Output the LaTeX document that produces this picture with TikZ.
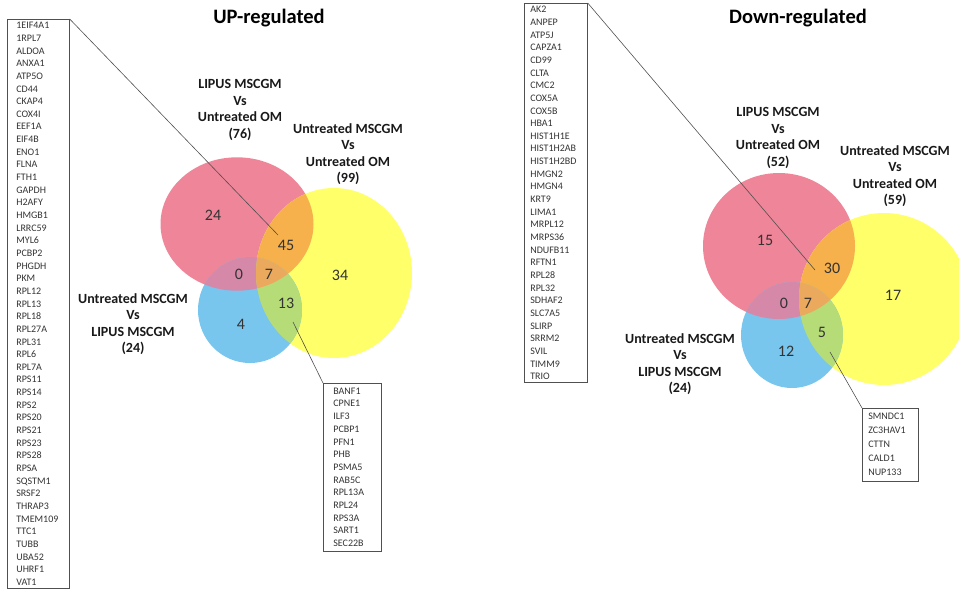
\documentclass[tikz,border=0pt]{standalone}
\usepackage{fontspec}
\setmainfont{Carlito}
\definecolor{vpink}{HTML}{EE8598}
\definecolor{vyellow}{HTML}{FFFF6A}
\definecolor{vblue}{HTML}{78C5EE}
\definecolor{vorange}{HTML}{F6B04C}
\definecolor{vgreen}{HTML}{B6DC78}
\definecolor{vmauve}{HTML}{D688A9}
\definecolor{vtriple}{HTML}{EBA95E}
\definecolor{lineg}{HTML}{505050}
\begin{document}
\begin{tikzpicture}[x=1pt,y=-1pt,
  genebox/.style={draw=lineg, line width=0.7pt, anchor=north west, align=left,
    font=\fontsize{10}{12.65}\selectfont, text=black!80, inner ysep=3pt},
  vlabel/.style={align=center, font=\fontsize{14}{16.5}\selectfont\bfseries, text=black!90},
  vnum/.style={font=\fontsize{16}{18}\selectfont, text=black!80},
  ttl/.style={font=\fontsize{20.5}{24}\selectfont\bfseries},
  conn/.style={draw=lineg, line width=0.6pt},
  redA/.style={insert path={(237,224) ellipse [x radius=76.5, y radius=66.7]}},
  yelA/.style={insert path={(334,273) ellipse [x radius=78, y radius=85]}},
  bluA/.style={insert path={(250,310) ellipse [x radius=52, y radius=53]}},
  redB/.style={insert path={(779,246) ellipse [x radius=76, y radius=73]}},
  yelB/.style={insert path={(884,299) ellipse [x radius=85, y radius=86]}},
  bluB/.style={insert path={(792,335) ellipse [x radius=51, y radius=53]}},
]
\useasboundingbox (0,0) rectangle (959,592);
\clip (0,0) rectangle (959,592);

% ---------- left Venn ----------
\fill[vpink, redA];
\fill[vyellow, yelA];
\fill[vblue, bluA];
\begin{scope}\clip[redA]; \fill[vorange, yelA]; \fill[vmauve, bluA]; \end{scope}
\begin{scope}\clip[yelA]; \fill[vgreen, bluA]; \end{scope}
\begin{scope}\clip[redA]; \clip[yelA]; \fill[vtriple, bluA]; \end{scope}

% ---------- right Venn ----------
\fill[vpink, redB];
\fill[vyellow, yelB];
\fill[vblue, bluB];
\begin{scope}\clip[redB]; \fill[vorange, yelB]; \fill[vmauve, bluB]; \end{scope}
\begin{scope}\clip[yelB]; \fill[vgreen, bluB]; \end{scope}
\begin{scope}\clip[redB]; \clip[yelB]; \fill[vtriple, bluB]; \end{scope}

% ---------- titles ----------
\node[ttl] (t1) at (269,18) {UP-regulated};
\node[ttl] (t2) at (798,18) {Down-regulated};

% ---------- left labels ----------
\node[vlabel] (la) at (240,110) {LIPUS MSCGM\\Vs\\Untreated OM\\(76)};
\node[vlabel] (lb) at (348,154) {Untreated MSCGM\\Vs\\Untreated OM\\(99)};
\node[vlabel] (lc) at (133,324) {Untreated MSCGM\\Vs\\LIPUS MSCGM\\(24)};

\node[vnum] (n24) at (213,215) {24};
\node[vnum] (n45) at (286,245) {45};
\node[vnum] (n0a) at (239,274) {0};
\node[vnum] (n7a) at (269,274) {7};
\node[vnum] (n34) at (340,275) {34};
\node[vnum] (n13) at (286,303) {13};
\node[vnum] (n4)  at (241,324) {4};

% ---------- right labels ----------
\node[vlabel] (ra) at (778,138) {LIPUS MSCGM\\Vs\\Untreated OM\\(52)};
\node[vlabel] (rb) at (895,176) {Untreated MSCGM\\Vs\\Untreated OM\\(59)};
\node[vlabel] (rc) at (680,364) {Untreated MSCGM\\Vs\\LIPUS MSCGM\\(24)};

\node[vnum] (n15) at (765,240) {15};
\node[vnum] (n30) at (832,268) {30};
\node[vnum] (n0b) at (784,303) {0};
\node[vnum] (n7b) at (808,303) {7};
\node[vnum] (n17) at (893,295) {17};
\node[vnum] (n5)  at (822,332) {5};
\node[vnum] (n12) at (786,351) {12};

% ---------- gene boxes ----------
\node[genebox, inner xsep=9pt, text width=44pt] (boxA) at (7,19) {1EIF4A1\\1RPL7\\ALDOA\\ANXA1\\ATP5O\\CD44\\CKAP4\\COX4I\\EEF1A\\EIF4B\\ENO1\\FLNA\\FTH1\\GAPDH\\H2AFY\\HMGB1\\LRRC59\\MYL6\\PCBP2\\PHGDH\\PKM\\RPL12\\RPL13\\RPL18\\RPL27A\\RPL31\\RPL6\\RPL7A\\RPS11\\RPS14\\RPS2\\RPS20\\RPS21\\RPS23\\RPS28\\RPSA\\SQSTM1\\SRSF2\\THRAP3\\TMEM109\\TTC1\\TUBB\\UBA52\\UHRF1\\VAT1};
\node[genebox, inner xsep=10pt, inner ysep=4.5pt, text width=38pt, font=\fontsize{10}{12.7}\selectfont] (boxB) at (323,383) {BANF1\\CPNE1\\ILF3\\PCBP1\\PFN1\\PHB\\PSMA5\\RAB5C\\RPL13A\\RPL24\\RPS3A\\SART1\\SEC22B};
\node[genebox, inner xsep=6pt, text width=51pt] (boxC) at (524,3) {AK2\\ANPEP\\ATP5J\\CAPZA1\\CD99\\CLTA\\CMC2\\COX5A\\COX5B\\HBA1\\HIST1H1E\\HIST1H2AB\\HIST1H2BD\\HMGN2\\HMGN4\\KRT9\\LIMA1\\MRPL12\\MRPS36\\NDUFB11\\RFTN1\\RPL28\\RPL32\\SDHAF2\\SLC7A5\\SLIRP\\SRRM2\\SVIL\\TIMM9\\TRIO};
\node[genebox, inner xsep=6pt, inner ysep=5pt, text width=44pt, font=\fontsize{10}{14}\selectfont] (boxD) at (862,408) {SMNDC1\\ZC3HAV1\\CTTN\\CALD1\\NUP133};

% ---------- connectors ----------
\coordinate (p45) at (278,235);
\coordinate (p13) at (293,322);
\coordinate (p30) at (815,270);
\coordinate (p5)  at (830,352);
\draw[conn] (boxA.north east) -- (p45);
\draw[conn] (p13) -- (boxB.north west);
\draw[conn] (boxC.north east) -- (p30);
\draw[conn] (p5) -- (boxD.north west);
\end{tikzpicture}
\end{document}
